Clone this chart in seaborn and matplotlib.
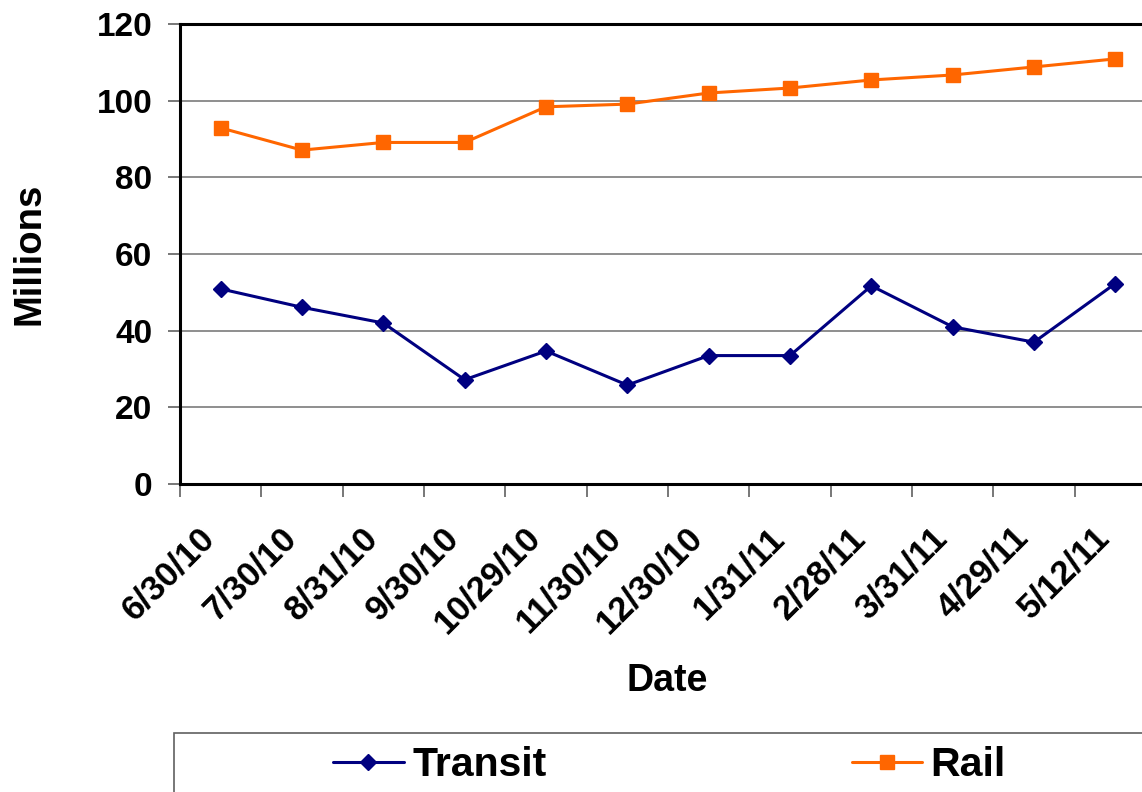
import matplotlib
matplotlib.use("Agg")
import matplotlib.pyplot as plt
import matplotlib.patches as mpatches
import matplotlib.transforms as mtransforms
import seaborn as sns
import pandas as pd

dates = ["6/30/10", "7/30/10", "8/31/10", "9/30/10", "10/29/10", "11/30/10",
         "12/30/10", "1/31/11", "2/28/11", "3/31/11", "4/29/11", "5/12/11"]
transit = [50.9, 46.1, 42.0, 27.2, 34.7, 25.8, 33.5, 33.5, 51.7, 41.0, 37.0, 52.3]
rail = [92.9, 87.1, 89.1, 89.1, 98.4, 99.1, 102.0, 103.3, 105.4, 106.7, 108.8, 110.9]
yticks = [0, 20, 40, 60, 80, 100, 120]

df = pd.DataFrame({
    "Date": dates * 2,
    "Millions": transit + rail,
    "Series": ["Transit"] * len(dates) + ["Rail"] * len(dates),
})

sns.set_style("white")
plt.rcParams["font.family"] = ["Liberation Sans", "DejaVu Sans"]
plt.rcParams["font.weight"] = "bold"
plt.rcParams["text.color"] = "black"
plt.rcParams["xtick.color"] = "black"
plt.rcParams["ytick.color"] = "black"
plt.rcParams["xtick.labelcolor"] = "black"
plt.rcParams["ytick.labelcolor"] = "black"

W, H = 1142, 792
fig = plt.figure(figsize=(W / 100, H / 100), dpi=100)
ax = fig.add_axes([180 / W, (H - 484) / H, 976 / W, 460 / H])

colors = {"Transit": "#000080", "Rail": "#FF6600"}
sns.lineplot(data=df, x="Date", y="Millions", hue="Series", style="Series",
             palette=colors, markers={"Transit": "D", "Rail": "s"}, dashes=False,
             sort=False, linewidth=2.2, markersize=10, markeredgewidth=1,
             ax=ax, legend=True)
for ln in ax.get_lines():
    ln.set_markeredgecolor(ln.get_color())
    if ln.get_marker() == "D":
        ln.set_markersize(8.5)

handles, labels = ax.get_legend_handles_labels()
ax.get_legend().remove()

ax.set_xlim(-0.5, len(dates) - 0.5)
ax.set_ylim(0, 120)
ax.set_yticks(yticks)
ax.set_yticklabels([str(v) for v in yticks], fontsize=24, fontweight="bold",
                   color="black")
ax.set_xticks(range(len(dates)))
ax.set_xticks([i - 0.5 for i in range(len(dates) + 1)], minor=True)
ax.tick_params(axis="x", which="major", length=0, pad=30)
ax.tick_params(axis="x", which="minor", length=9, width=1.2, color="#606060",
               direction="out", bottom=True)
ax.tick_params(axis="y", length=9, width=1.2, color="#606060", direction="out",
               pad=11, left=True)
ax.set_xticklabels(dates, fontsize=25, fontweight="bold", rotation=45,
                   ha="right", va="center", rotation_mode="anchor", color="black")
offset = mtransforms.ScaledTranslation(-11 / 100, -7 / 100, fig.dpi_scale_trans)
for lab in ax.get_xticklabels():
    lab.set_transform(lab.get_transform() + offset)
ax.yaxis.grid(True, color="#707070", linewidth=1.1)
ax.xaxis.grid(False)
for s in ["left", "bottom", "top"]:
    ax.spines[s].set_color("black")
    ax.spines[s].set_linewidth(2.2)
ax.spines["right"].set_visible(False)

ax.set_xlabel("")
ax.set_ylabel("")
fig.text(30 / W, 1 - 254 / H, "Millions", rotation=90, ha="center", va="center",
         fontsize=27.5, fontweight="bold", color="black")
fig.text(667 / W, 1 - 681 / H, "Date", ha="center", va="center",
         fontsize=27, fontweight="bold", color="black")

# legend frame
fig.add_artist(mpatches.Rectangle((174 / W, -0.2), 1.0, (H - 733) / H + 0.2,
                                  transform=fig.transFigure, fill=False,
                                  edgecolor="#606060", linewidth=1.2))
order = [labels.index("Transit"), labels.index("Rail")]
leg = fig.legend([handles[i] for i in order], [labels[i] for i in order],
                 loc="center left", bbox_to_anchor=(333 / W, 1 - 765 / H),
                 frameon=False, borderpad=0, borderaxespad=0, ncol=2,
                 handlelength=1.73, handletextpad=0.2, columnspacing=7.45,
                 prop={"size": 29.5, "weight": "bold"})
for t in leg.get_texts():
    t.set_color("black")

fig.savefig("out.png", dpi=100)
